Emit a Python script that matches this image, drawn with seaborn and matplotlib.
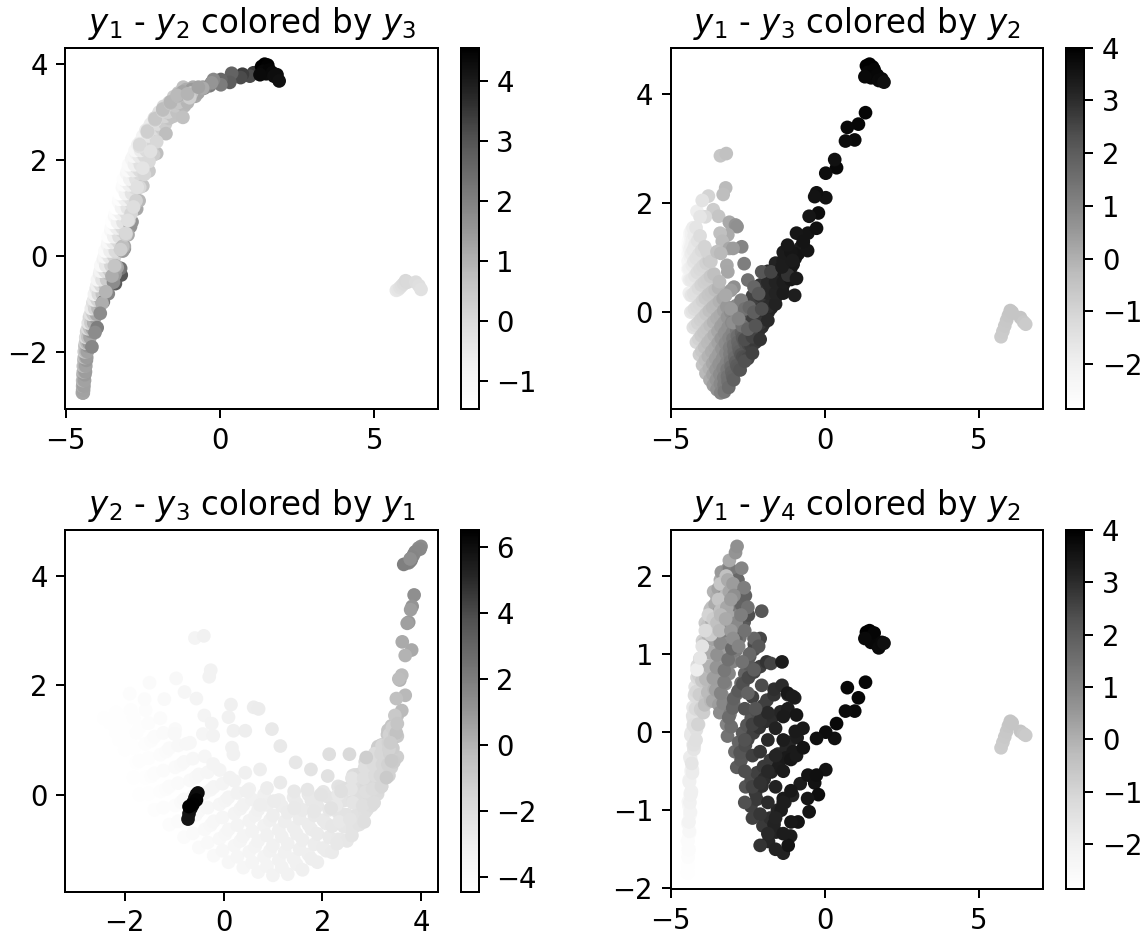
"""
Four projections of the embedding, each coloured by another coordinate
"""
import matplotlib
matplotlib.use("Agg")
import pandas as pd
import seaborn as sns
import matplotlib.pyplot as plt
from matplotlib.colors import Normalize
from matplotlib.cm import ScalarMappable
from matplotlib.ticker import MultipleLocator


# main sheet, one row per slice along y2
sheet_y1 = [
    -4.46, -4.45, -4.44, -4.44, -4.43, -4.42,
    -4.45, -4.44, -4.43, -4.42, -4.41,
    -4.45, -4.44, -4.42, -4.41, -4.39, -4.38,
    -4.43, -4.41, -4.40, -4.38, -4.36,
    -4.43, -4.41, -4.39, -4.37, -4.35, -4.33,
    -4.40, -4.38, -4.36, -4.34, -4.32,
    -4.40, -4.38, -4.35, -4.33, -4.30, -4.28,
    -4.36, -4.33, -4.30, -4.27, -4.24,
    -4.35, -4.32, -4.28, -4.25, -4.21, -4.18,
    -4.29, -4.25, -4.21, -4.17, -4.13,
    -4.27, -4.23, -4.18, -4.14, -4.09, -4.05,
    -4.20, -4.15, -4.10, -4.05, -4.00,
    -4.17, -4.12, -4.06, -4.01, -3.95, -3.90,
    -4.09, -4.03, -3.97, -3.91, -3.85,
    -4.07, -4.01, -3.94, -3.88, -3.81, -3.75,
    -3.99, -3.92, -3.85, -3.78, -3.71,
    -3.97, -3.90, -3.82, -3.75, -3.67, -3.60,
    -3.88, -3.80, -3.72, -3.64, -3.56,
    -3.86, -3.78, -3.70, -3.61, -3.53, -3.45,
    -3.75, -3.67, -3.59, -3.50, -3.42,
    -3.73, -3.64, -3.56, -3.47, -3.39, -3.30,
    -3.63, -3.54, -3.46, -3.37, -3.28,
    -3.62, -3.53, -3.44, -3.36, -3.27, -3.18,
    -3.52, -3.43, -3.34, -3.25, -3.16,
    -3.50, -3.41, -3.32, -3.23, -3.14, -3.05,
    -3.39, -3.30, -3.21, -3.11, -3.02,
    -3.38, -3.28, -3.19, -3.09, -3.00, -2.90,
    -3.27, -3.17, -3.08, -2.98, -2.88,
    -3.26, -3.16, -3.06, -2.96, -2.86, -2.76,
    -3.14, -3.04, -2.94, -2.84, -2.74,
    -3.12, -3.02, -2.92, -2.82, -2.72, -2.62,
    -2.99, -2.89, -2.80, -2.70, -2.60,
    -2.96, -2.86, -2.77, -2.67, -2.58, -2.48,
    -2.81, -2.72, -2.62, -2.53, -2.44,
    -2.75, -2.66, -2.57, -2.48, -2.39, -2.30,
    -2.58, -2.48, -2.39, -2.29, -2.20,
    -2.50, -2.40, -2.30, -2.20, -2.10, -2.00,
    -2.32, -2.21, -2.10, -1.99, -1.88,
    -2.25, -2.13, -2.01, -1.89, -1.77, -1.65,
    -2.04, -1.91, -1.78, -1.65, -1.52,
    -1.97, -1.83, -1.68, -1.54, -1.39, -1.25,
    -1.74, -1.59, -1.44, -1.30, -1.15,
    -1.65, -1.50, -1.35, -1.20, -1.05, -0.90,
    -1.42, -1.27, -1.11, -0.96, -0.80,
    -1.35, -1.19, -1.03, -0.87, -0.71, -0.55,
]
sheet_y2 = [
    -2.86, -2.80, -2.86, -2.80, -2.86, -2.80,
    -2.72, -2.66, -2.72, -2.66, -2.72,
    -2.60, -2.48, -2.60, -2.48, -2.60, -2.48,
    -2.42, -2.36, -2.42, -2.36, -2.42,
    -2.30, -2.18, -2.30, -2.18, -2.30, -2.18,
    -2.12, -2.06, -2.12, -2.06, -2.12,
    -2.00, -1.88, -2.00, -1.88, -2.00, -1.88,
    -1.82, -1.76, -1.82, -1.76, -1.82,
    -1.70, -1.58, -1.70, -1.58, -1.70, -1.58,
    -1.52, -1.46, -1.52, -1.46, -1.52,
    -1.40, -1.28, -1.40, -1.28, -1.40, -1.28,
    -1.22, -1.16, -1.22, -1.16, -1.22,
    -1.10, -0.98, -1.10, -0.98, -1.10, -0.98,
    -0.92, -0.86, -0.92, -0.86, -0.92,
    -0.80, -0.68, -0.80, -0.68, -0.80, -0.68,
    -0.62, -0.56, -0.62, -0.56, -0.62,
    -0.50, -0.38, -0.50, -0.38, -0.50, -0.38,
    -0.32, -0.26, -0.32, -0.26, -0.32,
    -0.20, -0.08, -0.20, -0.08, -0.20, -0.08,
    -0.02, 0.04, -0.02, 0.04, -0.02,
    0.10, 0.22, 0.10, 0.22, 0.10, 0.22,
    0.28, 0.34, 0.28, 0.34, 0.28,
    0.40, 0.52, 0.40, 0.52, 0.40, 0.52,
    0.58, 0.64, 0.58, 0.64, 0.58,
    0.70, 0.82, 0.70, 0.82, 0.70, 0.82,
    0.88, 0.94, 0.88, 0.94, 0.88,
    1.00, 1.12, 1.00, 1.12, 1.00, 1.12,
    1.18, 1.24, 1.18, 1.24, 1.18,
    1.30, 1.42, 1.30, 1.42, 1.30, 1.42,
    1.48, 1.54, 1.48, 1.54, 1.48,
    1.60, 1.72, 1.60, 1.72, 1.60, 1.72,
    1.78, 1.84, 1.78, 1.84, 1.78,
    1.90, 2.02, 1.90, 2.02, 1.90, 2.02,
    2.08, 2.14, 2.08, 2.14, 2.08,
    2.20, 2.32, 2.20, 2.32, 2.20, 2.32,
    2.38, 2.44, 2.38, 2.44, 2.38,
    2.50, 2.62, 2.50, 2.62, 2.50, 2.62,
    2.66, 2.72, 2.66, 2.72, 2.66,
    2.75, 2.87, 2.75, 2.87, 2.75, 2.87,
    2.91, 2.97, 2.91, 2.97, 2.91,
    3.00, 3.12, 3.00, 3.12, 3.00, 3.12,
    3.13, 3.19, 3.13, 3.19, 3.13,
    3.20, 3.32, 3.20, 3.32, 3.20, 3.32,
    3.33, 3.39, 3.33, 3.39, 3.33,
    3.40, 3.52, 3.40, 3.52, 3.40, 3.52,
]
sheet_y3 = [
    1.10, 1.14, 1.18, 1.22, 1.26, 1.30,
    0.99, 1.08, 1.16, 1.25, 1.33,
    0.80, 0.93, 1.06, 1.19, 1.32, 1.45,
    0.79, 0.94, 1.09, 1.25, 1.40,
    0.62, 0.80, 0.97, 1.15, 1.32, 1.50,
    0.59, 0.80, 1.01, 1.21, 1.42,
    0.35, 0.59, 0.83, 1.07, 1.31, 1.55,
    0.31, 0.59, 0.86, 1.14, 1.41,
    0.00, 0.31, 0.62, 0.93, 1.24, 1.55,
    0.02, 0.34, 0.67, 0.99, 1.31,
    -0.28, 0.06, 0.39, 0.73, 1.06, 1.40,
    -0.24, 0.10, 0.44, 0.79, 1.13,
    -0.55, -0.20, 0.15, 0.50, 0.85, 1.20,
    -0.49, -0.14, 0.21, 0.55, 0.90,
    -0.78, -0.43, -0.09, 0.26, 0.60, 0.95,
    -0.71, -0.37, -0.03, 0.32, 0.66,
    -0.97, -0.64, -0.30, 0.03, 0.37, 0.70,
    -0.88, -0.56, -0.24, 0.09, 0.41,
    -1.12, -0.81, -0.49, -0.18, 0.14, 0.45,
    -1.03, -0.72, -0.42, -0.11, 0.20,
    -1.24, -0.94, -0.64, -0.35, -0.05, 0.25,
    -1.14, -0.85, -0.56, -0.26, 0.03,
    -1.34, -1.05, -0.76, -0.48, -0.19, 0.10,
    -1.24, -0.95, -0.67, -0.38, -0.09,
    -1.42, -1.14, -0.85, -0.57, -0.28, 0.00,
    -1.31, -1.03, -0.75, -0.47, -0.19,
    -1.48, -1.20, -0.93, -0.65, -0.38, -0.10,
    -1.33, -1.05, -0.77, -0.49, -0.21,
    -1.46, -1.18, -0.90, -0.61, -0.33, -0.05,
    -1.28, -1.00, -0.72, -0.44, -0.16,
    -1.38, -1.10, -0.83, -0.55, -0.28, 0.00,
    -1.18, -0.91, -0.64, -0.38, -0.11,
    -1.24, -0.98, -0.72, -0.47, -0.21, 0.05,
    -1.03, -0.78, -0.53, -0.28, -0.03,
    -1.06, -0.82, -0.58, -0.33, -0.09, 0.15,
    -0.83, -0.59, -0.35, -0.11, 0.13,
    -0.85, -0.61, -0.37, -0.13, 0.11, 0.35,
    -0.58, -0.35, -0.11, 0.12, 0.36,
    -0.55, -0.32, -0.09, 0.14, 0.37, 0.60,
    -0.27, -0.05, 0.18, 0.40, 0.62,
    -0.20, 0.01, 0.22, 0.43, 0.64, 0.85,
    0.08, 0.28, 0.48, 0.68, 0.88,
    0.15, 0.34, 0.53, 0.72, 0.91, 1.10,
    0.42, 0.61, 0.80, 0.99, 1.18,
    0.50, 0.69, 0.88, 1.07, 1.26, 1.45,
]
sheet_y4 = [
    -1.62, -1.80, -1.44, -1.71, -1.35, -1.53,
    -1.40, -1.60, -1.20, -1.50, -1.30,
    -1.39, -1.17, -1.50, -0.95, -1.28, -1.06,
    -1.15, -0.91, -1.27, -0.79, -1.03,
    -0.89, -1.15, -0.63, -1.02, -0.50, -0.76,
    -0.61, -0.90, -0.32, -0.76, -0.47,
    -0.64, -0.32, -0.80, 0.00, -0.48, -0.16,
    -0.35, -0.01, -0.52, 0.17, -0.18,
    -0.04, -0.40, 0.32, -0.22, 0.50, 0.14,
    0.21, -0.16, 0.58, 0.03, 0.40,
    0.09, 0.47, -0.10, 0.85, 0.28, 0.66,
    0.30, 0.70, 0.10, 0.90, 0.50,
    0.52, 0.10, 0.94, 0.31, 1.15, 0.73,
    0.73, 0.29, 1.17, 0.51, 0.95,
    0.48, 0.94, 0.25, 1.40, 0.71, 1.17,
    0.66, 1.14, 0.42, 1.38, 0.90,
    0.85, 0.35, 1.35, 0.60, 1.60, 1.10,
    1.04, 0.51, 1.57, 0.77, 1.30,
    0.68, 1.24, 0.40, 1.80, 0.96, 1.52,
    0.84, 1.43, 0.55, 1.73, 1.14,
    1.02, 0.40, 1.64, 0.71, 1.95, 1.33,
    1.19, 0.54, 1.84, 0.86, 1.51,
    0.69, 1.37, 0.35, 2.05, 1.03, 1.71,
    0.83, 1.54, 0.48, 1.90, 1.19,
    0.99, 0.25, 1.73, 0.62, 2.10, 1.36,
    1.14, 0.37, 1.91, 0.75, 1.52,
    0.50, 1.30, 0.10, 2.10, 0.90, 1.70,
    0.64, 1.46, 0.23, 1.87, 1.05,
    0.79, -0.05, 1.63, 0.37, 2.05, 1.21,
    0.93, 0.07, 1.79, 0.50, 1.36,
    0.19, 1.07, -0.25, 1.95, 0.63, 1.51,
    0.31, 1.19, -0.13, 1.63, 0.75,
    0.43, -0.45, 1.31, -0.01, 1.75, 0.87,
    0.53, -0.36, 1.41, 0.09, 0.97,
    -0.26, 0.62, -0.70, 1.50, 0.18, 1.06,
    -0.17, 0.70, -0.61, 1.13, 0.26,
    -0.09, -0.95, 0.77, -0.52, 1.20, 0.34,
    -0.01, -0.86, 0.84, -0.44, 0.41,
    -0.78, 0.06, -1.20, 0.90, -0.36, 0.48,
    -0.69, 0.14, -1.10, 0.55, -0.28,
    -0.60, -1.40, 0.20, -1.00, 0.60, -0.20,
    -0.51, -1.28, 0.26, -0.90, -0.13,
    -1.18, -0.44, -1.55, 0.30, -0.81, -0.07,
    -1.00, -0.33, -1.33, 0.01, -0.66,
    -0.85, -1.45, -0.25, -1.15, 0.05, -0.55,
]

# extra points in the dense dark lobe (lower middle of the y1 - y4 view)
fill_y1 = [-2.60, -2.60, -2.60, -2.60,
           -2.35, -2.35, -2.35, -2.35, -2.35,
           -2.10, -2.10, -2.10, -2.10, -2.10,
           -1.85, -1.85, -1.85, -1.85, -1.85,
           -1.60, -1.60, -1.60, -1.60, -1.60,
           -1.35, -1.35, -1.35, -1.35, -1.35,
           -1.10, -1.10, -1.10]
fill_y2 = [2.30, 2.34, 2.28, 2.32,
           2.60, 2.56, 2.62, 2.58, 2.60,
           2.85, 2.82, 2.88, 2.84, 2.86,
           3.05, 3.02, 3.07, 3.04, 3.06,
           3.20, 3.18, 3.22, 3.19, 3.21,
           3.35, 3.33, 3.37, 3.34, 3.36,
           3.45, 3.43, 3.47]
fill_y3 = [-0.90, -0.50, -0.20, 0.00,
           -0.75, -0.45, -0.15, 0.10, 0.30,
           -0.50, -0.20, 0.05, 0.30, 0.50,
           -0.15, 0.10, 0.35, 0.55, 0.75,
           0.15, 0.35, 0.55, 0.75, 0.90,
           0.35, 0.55, 0.75, 0.95, 1.10,
           0.60, 0.85, 1.10]
fill_y4 = [-0.90, -0.50, -0.10, 0.30,
           -1.10, -0.70, -0.30, 0.10, 0.45,
           -1.45, -1.05, -0.65, -0.25, 0.15,
           -1.30, -0.90, -0.50, -0.10, 0.25,
           -1.50, -1.10, -0.70, -0.30, 0.05,
           -1.30, -0.90, -0.50, -0.10, 0.20,
           -1.15, -0.75, -0.35]

# scattered points lying above the sheet
stray_y1 = [-3.39, -3.20, -3.22, -3.30, -3.78, -3.62, -3.45, -3.10, -2.90, -2.85,
            -2.70, -3.15, -3.40, -3.33, -3.10, -2.98, -2.62, -3.18, -3.15, -3.82,
            -3.70, -3.50, -3.38, -2.50, -2.30, -2.05, -1.75, -1.20, -2.15, -2.95,
            -3.05, -3.42, -2.88, -2.72, -2.60, -2.45, -2.30, -2.05, -3.05, -3.22,
            -2.98, -2.68, -2.50, -2.80, -2.25, -4.15, -3.98, -3.88, -4.05]
stray_y2 = [-0.58, -0.40, -0.26, -0.29, -0.96, -0.79, -0.55, 0.15, 0.61, 0.71,
            0.98, 0.10, -0.39, -0.24, 0.20, 0.44, 1.15, 0.17, 0.20, -0.99,
            -0.75, -0.42, -0.21, 1.46, 1.77, 2.14, 2.55, 2.89, 2.11, 0.74,
            0.44, -0.21, 0.88, 1.15, 1.43, 1.70, 1.97, 2.38, 0.47, 0.13,
            0.74, 1.43, 1.83, 1.02, 2.18, -1.90, -1.50, -1.20, -1.60]
stray_y3 = [2.87, 2.91, 2.28, 2.16, 2.13, 1.88, 1.76, 1.65, 1.60, 1.57,
            1.20, 1.42, 1.45, 1.30, 1.17, 1.17, 0.89, 0.86, 0.74, 1.11,
            0.93, 1.11, 1.08, 0.59, 0.46, 0.74, 0.74, 0.68, 0.34, 0.46,
            0.40, 0.56, 0.12, 0.22, 0.06, 0.09, 0.00, 0.06, 0.06, 0.31,
            -0.19, -0.25, -0.31, -0.12, -0.25, 1.85, 2.05, 1.75, 1.75]
stray_y4 = [1.90, 2.00, 1.75, 1.60, 1.50, 1.45, 1.70, 2.20, 2.30, 2.38,
            2.10, 1.95, 1.55, 1.45, 1.80, 1.90, 1.85, 1.60, 1.50, 1.30,
            1.25, 1.40, 1.50, 1.60, 1.20, 1.55, 0.88, 0.48, 1.10, 1.75,
            1.70, 1.30, 1.40, 1.50, 1.30, 1.00, 0.80, 0.60, 1.30, 1.45,
            1.20, 0.90, 0.50, 1.10, 0.30, 0.80, 1.10, 1.30, 0.95]

# chain running up to the top cluster
chain_y1 = [1.32, 1.09, 0.97, 0.73, 0.67, 0.38, 0.32, 0.03, 0.03, -0.27, -0.33,
            -0.21, -0.51, -0.27, -0.92, -1.21, -0.56, -1.39, -0.92, -0.98, -1.05, -0.70]
chain_y2 = [3.86, 3.82, 3.75, 3.79, 3.72, 3.81, 3.62, 3.68, 3.57, 3.61, 3.55,
            3.68, 3.50, 3.61, 3.47, 3.42, 3.50, 3.35, 3.40, 3.30, 3.38, 3.52]
chain_y3 = [3.66, 3.45, 3.16, 3.39, 3.14, 2.65, 2.80, 2.55, 2.10, 2.19, 2.12,
            1.82, 1.76, 1.54, 1.45, 1.23, 1.13, 0.83, 0.62, 0.31, 0.95, 1.30]
chain_y4 = [0.64, 0.44, 0.27, 0.57, 0.27, 0.11, -0.08, 0.00, -0.48, -0.08, -0.65,
            -0.80, -1.02, -0.55, 0.22, 0.50, -0.85, 0.90, -0.30, 0.44, 0.46, -0.20]

# top cluster
top_y1 = [1.35, 1.45, 1.55, 1.40, 1.50, 1.60, 1.70, 1.75, 1.85, 1.92, 1.30]
top_y2 = [3.95, 4.00, 3.98, 3.85, 3.80, 3.88, 3.82, 3.75, 3.78, 3.65, 3.78]
top_y3 = [4.52, 4.55, 4.50, 4.40, 4.30, 4.45, 4.35, 4.25, 4.28, 4.22, 4.32]
top_y4 = [1.28, 1.30, 1.25, 1.20, 1.15, 1.27, 1.12, 1.08, 1.15, 1.14, 1.20]

# isolated cluster on the far right
far_y1 = [5.72, 5.78, 5.84, 5.90, 5.96, 6.02, 6.08, 6.35, 6.45, 6.52]
far_y2 = [-0.72, -0.70, -0.66, -0.62, -0.58, -0.52, -0.55, -0.55, -0.62, -0.70]
far_y3 = [-0.45, -0.35, -0.25, -0.15, -0.06, 0.03, 0.00, -0.10, -0.18, -0.22]
far_y4 = [-0.20, -0.13, -0.06, 0.01, 0.08, 0.14, 0.12, 0.01, -0.02, -0.04]

points = pd.DataFrame({
    'y1': sheet_y1 + fill_y1 + stray_y1 + chain_y1 + top_y1 + far_y1,
    'y2': sheet_y2 + fill_y2 + stray_y2 + chain_y2 + top_y2 + far_y2,
    'y3': sheet_y3 + fill_y3 + stray_y3 + chain_y3 + top_y3 + far_y3,
    'y4': sheet_y4 + fill_y4 + stray_y4 + chain_y4 + top_y4 + far_y4,
})

# x, y, colour, title, tick steps (x, y, colourbar), axes box, colourbar box
PANELS = [
    ('y1', 'y2', 'y3', r'$y_1$ - $y_2$ colored by $y_3$', (5, 2, 1),
     [0.0570, 0.5627, 0.3245, 0.3863], [0.4013, 0.5627, 0.0157, 0.3863]),
    ('y1', 'y3', 'y2', r'$y_1$ - $y_3$ colored by $y_2$', (5, 2, 1),
     [0.5841, 0.5627, 0.3241, 0.3863], [0.9288, 0.5627, 0.0157, 0.3863]),
    ('y2', 'y3', 'y1', r'$y_2$ - $y_3$ colored by $y_1$', (2, 2, 2),
     [0.0570, 0.0473, 0.3245, 0.3865], [0.4013, 0.0473, 0.0157, 0.3865]),
    ('y1', 'y4', 'y2', r'$y_1$ - $y_4$ colored by $y_2$', (5, 1, 1),
     [0.5841, 0.0502, 0.3241, 0.3835], [0.9288, 0.0502, 0.0157, 0.3835]),
]

plt.rcParams['font.size'] = 11

DPI = 180
fig = plt.figure(figsize=(1148 / DPI, 936 / DPI), dpi=DPI)

for x, y, c, title, steps, box, cbox in PANELS:
    ax = fig.add_axes(box)
    norm = Normalize(points[c].min(), points[c].max())
    sns.scatterplot(
        data=points, x=x, y=y, hue=c,
        palette='Greys', hue_norm=norm,
        s=30, linewidth=0, legend=False, ax=ax
    )
    ax.set_title(title, fontsize=13)
    ax.set_xlabel('')
    ax.set_ylabel('')
    ax.xaxis.set_major_locator(MultipleLocator(steps[0]))
    ax.yaxis.set_major_locator(MultipleLocator(steps[1]))
    cax = fig.add_axes(cbox)
    fig.colorbar(ScalarMappable(norm=norm, cmap='Greys'), cax=cax,
                 ticks=MultipleLocator(steps[2]))

fig.savefig('out.png', dpi=DPI)
